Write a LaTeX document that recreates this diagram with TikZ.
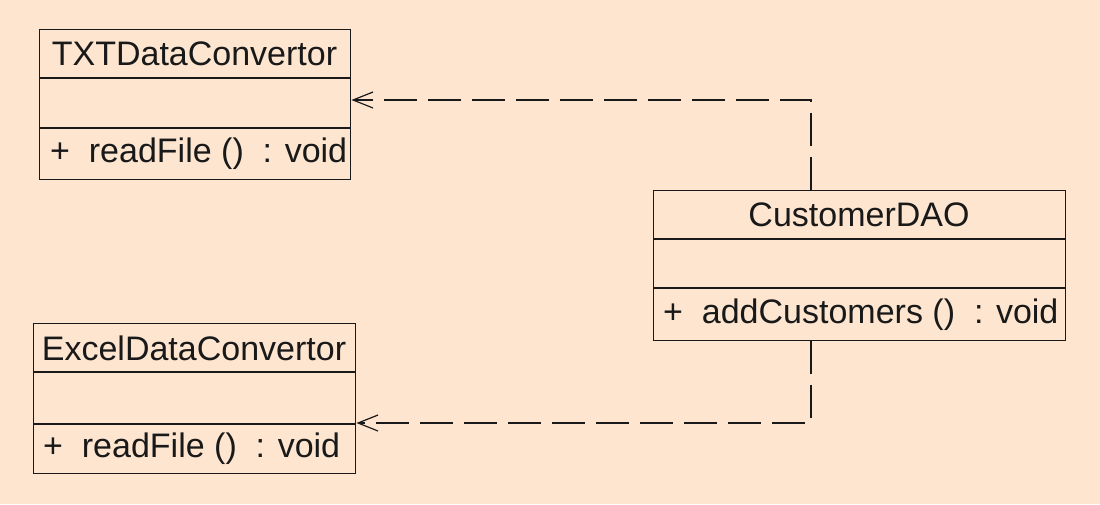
\documentclass[tikz,border=0pt]{standalone}
\usepackage{fontspec}
\setmainfont{Liberation Sans}
\usetikzlibrary{arrows.meta}
\definecolor{bg}{RGB}{253,229,208}
\definecolor{ink}{RGB}{25,25,25}
\begin{document}
\begin{tikzpicture}[x=1pt,y=-1pt,
  classbox/.style={draw=ink,line width=1.4pt,inner sep=0pt,anchor=north west},
  divider/.style={draw=ink,line width=1.4pt},
  ctitle/.style={font=\fontsize{34}{40}\selectfont,text=ink,inner sep=0pt},
  cop/.style={ctitle,anchor=west},
  dep/.style={draw=ink,line width=1.4pt,dash pattern=on 33pt off 11pt,
    -{Straight Barb[length=20pt,width=16pt,line width=1.2pt]}}]
\fill[bg] (0,0) rectangle (1100,504);
\useasboundingbox (0,0) rectangle (1100,504);
% TXTDataConvertor
\node[classbox,minimum width=311pt,minimum height=150pt] (txt) at (39,29) {};
\draw[divider] (txt.west |- 0,78) -- (txt.east |- 0,78);
\draw[divider] (txt.west |- 0,128) -- (txt.east |- 0,128);
\node[ctitle] (txtname) at (194.5,54) {TXTDataConvertor};
\node[cop] (txtop) at (50,154) {+~~readFile ()~~: void};
% ExcelDataConvertor
\node[classbox,minimum width=322pt,minimum height=150pt] (xls) at (33,323) {};
\draw[divider] (xls.west |- 0,372) -- (xls.east |- 0,372);
\draw[divider] (xls.west |- 0,424) -- (xls.east |- 0,424);
\node[ctitle] (xlsname) at (194,348) {ExcelDataConvertor};
\node[cop] (xlsop) at (43,449) {+~~readFile ()~~: void};
% CustomerDAO
\node[classbox,minimum width=412pt,minimum height=150pt] (cust) at (653,190) {};
\draw[divider] (cust.west |- 0,239) -- (cust.east |- 0,239);
\draw[divider] (cust.west |- 0,288) -- (cust.east |- 0,288);
\node[ctitle] (custname) at (859,215) {CustomerDAO};
\node[cop] (custop) at (663,314.5) {+~~addCustomers ()~~: void};
% dependencies
\draw[dep] (cust.north -| 811,0) |- (txt.east |- 0,100);
\draw[dep] (cust.south -| 811,0) |- (xls.east |- 0,423);
\end{tikzpicture}
\end{document}
